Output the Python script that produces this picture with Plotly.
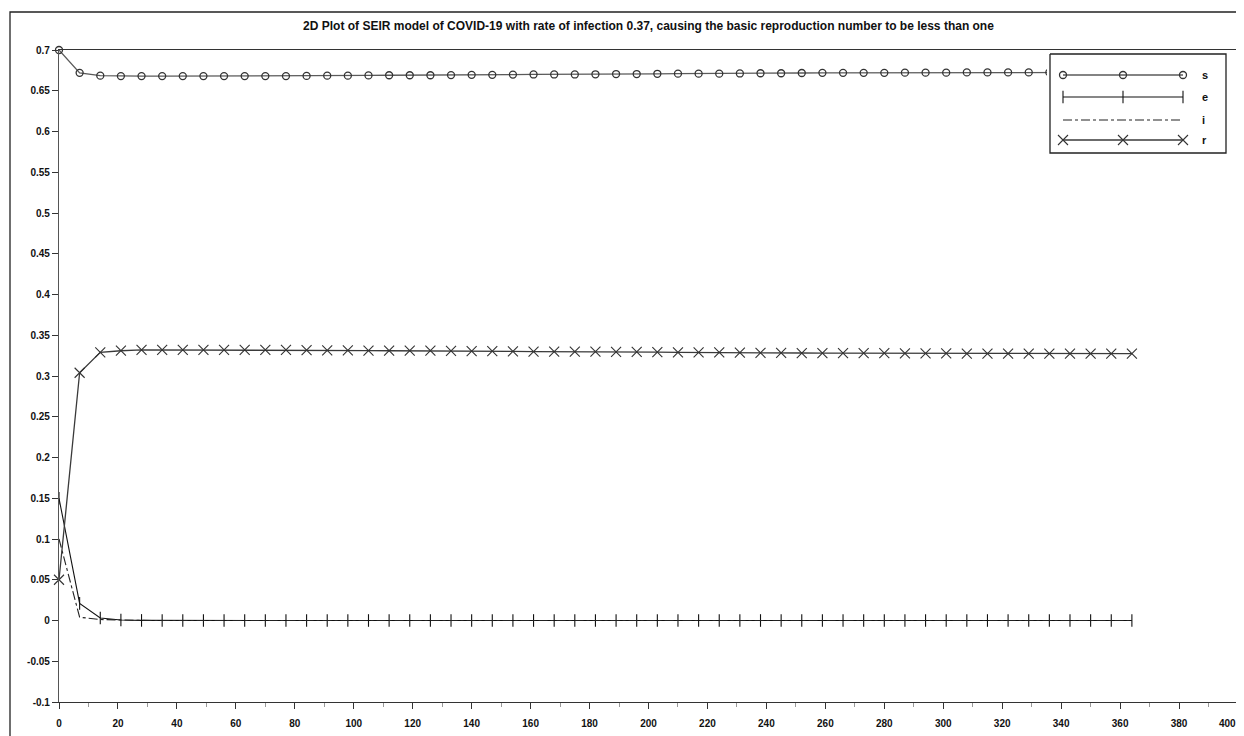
import plotly.graph_objects as go

# ---------------- data ----------------
days = [0, 7, 14, 21, 28, 35, 42, 49, 56, 63, 70, 77, 84, 91, 98, 105, 112, 119,
        126, 133, 140, 147, 154, 161, 168, 175, 182, 189, 196, 203, 210, 217, 224,
        231, 238, 245, 252, 259, 266, 273, 280, 287, 294, 301, 308, 315, 322, 329,
        336, 343, 350, 357, 364]

s_vals = [0.700, 0.672, 0.6685, 0.668, 0.668, 0.668, 0.668, 0.668, 0.668, 0.668,
          0.668, 0.668, 0.6682, 0.6685, 0.6685, 0.6688, 0.669, 0.669, 0.669, 0.6692,
          0.6695, 0.6695, 0.6698, 0.670, 0.670, 0.670, 0.6702, 0.6705, 0.6705, 0.6708,
          0.671, 0.671, 0.671, 0.6712, 0.6715, 0.6715, 0.6718, 0.672, 0.672, 0.672,
          0.672, 0.6722, 0.6722, 0.6722, 0.6725, 0.6725, 0.6725, 0.6725, 0.6725, 0.6725,
          0.6725, 0.6725, 0.6725]

e_vals = [0.150, 0.021, 0.003, 0.0006, 0.0001, 0.0, 0.0, 0.0, 0.0, 0.0,
          0.0, 0.0, 0.0, 0.0, 0.0, 0.0, 0.0, 0.0, 0.0, 0.0,
          0.0, 0.0, 0.0, 0.0, 0.0, 0.0, 0.0, 0.0, 0.0, 0.0,
          0.0, 0.0, 0.0, 0.0, 0.0, 0.0, 0.0, 0.0, 0.0, 0.0,
          0.0, 0.0, 0.0, 0.0, 0.0, 0.0, 0.0, 0.0, 0.0, 0.0,
          0.0, 0.0, 0.0]

i_vals = [0.100, 0.004, 0.0012, 0.0003, 0.0001, 0.0, 0.0, 0.0, 0.0, 0.0,
          0.0, 0.0, 0.0, 0.0, 0.0, 0.0, 0.0, 0.0, 0.0, 0.0,
          0.0, 0.0, 0.0, 0.0, 0.0, 0.0, 0.0, 0.0, 0.0, 0.0,
          0.0, 0.0, 0.0, 0.0, 0.0, 0.0, 0.0, 0.0, 0.0, 0.0,
          0.0, 0.0, 0.0, 0.0, 0.0, 0.0, 0.0, 0.0, 0.0, 0.0,
          0.0, 0.0, 0.0]

r_vals = [0.050, 0.304, 0.329, 0.331, 0.332, 0.332, 0.332, 0.332, 0.332, 0.332,
          0.332, 0.332, 0.3318, 0.3315, 0.3315, 0.3312, 0.331, 0.331, 0.331, 0.3308,
          0.3305, 0.3305, 0.3302, 0.330, 0.330, 0.330, 0.3298, 0.3295, 0.3295, 0.3292,
          0.329, 0.329, 0.329, 0.3288, 0.3285, 0.3285, 0.3282, 0.328, 0.328, 0.328,
          0.328, 0.3278, 0.3278, 0.3278, 0.3275, 0.3275, 0.3275, 0.3275, 0.3275, 0.3275,
          0.3275, 0.3275, 0.3275]

series_names = ["s", "e", "i", "r"]
title_text = ("2D Plot of SEIR model of COVID-19 with rate of infection 0.37, "
              "causing the basic reproduction number to be less than one")

x_ticks = [0, 20, 40, 60, 80, 100, 120, 140, 160, 180, 200, 220, 240, 260, 280,
           300, 320, 340, 360, 380, 400]
x_tick_text = ["0", "20", "40", "60", "80", "100", "120", "140", "160", "180", "200",
               "220", "240", "260", "280", "300", "320", "340", "360", "380", "400"]
y_ticks = [-0.1, -0.05, 0, 0.05, 0.1, 0.15, 0.2, 0.25, 0.3, 0.35, 0.4,
           0.45, 0.5, 0.55, 0.6, 0.65, 0.7]
y_tick_text = ["-0.1", "-0.05", "0", "0.05", "0.1", "0.15", "0.2", "0.25", "0.3",
               "0.35", "0.4", "0.45", "0.5", "0.55", "0.6", "0.65", "0.7"]

# ---------------- layout geometry (screen px, page has an 8px body margin) ----------------
OFF = 8
W, H = 1244 - OFF, 736 - OFF
plot_left, plot_right, plot_top, plot_bottom = 59, 1238, 50, 702
ML = plot_left - OFF
MT = plot_top - OFF
MR = W - (plot_right - OFF)
MB = H - (plot_bottom - OFF)
plot_w = W - ML - MR
plot_h = H - MT - MB
FONT = "Liberation Sans"


def px_to_paper_x(px):
    return (px - plot_left) / plot_w


def px_to_paper_y(py):
    return (plot_bottom - py) / plot_h


styles = {
    "s": dict(line=dict(color="#5a5a5a", width=1.3),
              marker=dict(symbol="circle-open", size=7, color="#333333",
                          line=dict(width=1.3))),
    "e": dict(line=dict(color="#111111", width=1.1),
              marker=dict(symbol="line-ns", size=9, color="#111111",
                          line=dict(width=1.1, color="#111111"))),
    "i": dict(line=dict(color="#222222", width=1.1, dash="dashdot"),
              marker=dict(size=1, opacity=0)),
    "r": dict(line=dict(color="#3a3a3a", width=1.3),
              marker=dict(symbol="x-thin", size=10, color="#333333",
                          line=dict(width=1.1, color="#333333"))),
}
modes = {"s": "lines+markers", "e": "lines+markers", "i": "lines", "r": "lines+markers"}
values = {"s": s_vals, "e": e_vals, "i": i_vals, "r": r_vals}

fig = go.Figure()
for name in series_names:
    fig.add_trace(go.Scatter(x=days, y=values[name], mode=modes[name], name=name,
                             showlegend=False, cliponaxis=False, **styles[name]))

# ---------------- custom legend (on its own small axis pair) ----------------
lg_left, lg_right, lg_top, lg_bottom = 1050, 1226, 54, 153
bw = lg_right - lg_left
bh = lg_bottom - lg_top
pad = 3
x2_dom = [px_to_paper_x(lg_left - pad), px_to_paper_x(lg_right + pad)]
y2_dom = [px_to_paper_y(lg_bottom + pad), px_to_paper_y(lg_top - pad)]

fig.add_trace(go.Scatter(x=[0, bw, bw, 0, 0], y=[0, 0, bh, bh, 0], mode="lines",
                         fill="toself", fillcolor="white",
                         line=dict(color="#222222", width=1.3),
                         xaxis="x2", yaxis="y2", showlegend=False, hoverinfo="skip"))
row_y = [21, 43, 66, 86]
sample_x = [13, 73, 133]
for k, name in enumerate(series_names):
    st = styles[name]
    fig.add_trace(go.Scatter(x=sample_x, y=[row_y[k]] * 3, mode=modes[name],
                             xaxis="x2", yaxis="y2", showlegend=False,
                             hoverinfo="skip", **st))
    fig.add_annotation(x=150, y=row_y[k], xref="x2", yref="y2", text=f"<b>{name}</b>",
                       showarrow=False, xanchor="left", yanchor="middle",
                       font=dict(family=FONT, size=11, color="#111111"))

# last x tick label: right-anchored so it stays inside the page
shown_x_text = list(x_tick_text)
shown_x_text[-1] = ""
fig.add_annotation(x=x_ticks[-1], xref="x", y=px_to_paper_y(723), yref="paper",
                   text=f"<b>{x_tick_text[-1]}</b>", showarrow=False,
                   xanchor="right", yanchor="middle", xshift=0,
                   font=dict(family=FONT, size=10, color="#111111"))

# outer figure frame
fig.add_shape(type="rect", xref="paper", yref="paper",
              x0=px_to_paper_x(10), x1=px_to_paper_x(1260),
              y0=px_to_paper_y(760), y1=px_to_paper_y(12),
              line=dict(color="#222222", width=1.3), layer="below")

fig.update_layout(
    width=W, height=H,
    margin=dict(l=ML, r=MR, t=MT, b=MB, autoexpand=False),
    paper_bgcolor="white", plot_bgcolor="white",
    title=dict(text=f"<b>{title_text}</b>", x=0.5, xanchor="center",
               xref="paper",
               y=1 - (26 - OFF) / H, yanchor="middle",
               font=dict(family=FONT, size=12, color="#111111")),
    font=dict(family=FONT, size=10, color="#111111"),
    xaxis=dict(range=[0, 400], tickvals=x_ticks,
               ticktext=[f"<b>{t}</b>" if t else "" for t in shown_x_text],
               ticks="outside", ticklen=6, ticklabelstandoff=6,
               tickwidth=1, tickcolor="#333333",
               minor=dict(dtick=10, ticks="outside", ticklen=4, tickcolor="#999999"),
               showgrid=False, zeroline=False, showline=True, linecolor="#333333",
               linewidth=1.2, mirror=True, automargin=False,
               tickfont=dict(family=FONT, size=10, color="#111111")),
    yaxis=dict(range=[-0.1, 0.7], tickvals=y_ticks,
               ticktext=[f"<b>{t}</b>" for t in y_tick_text],
               ticks="outside", ticklen=6, tickwidth=1, tickcolor="#333333",
               showgrid=False, zeroline=False, showline=True, linecolor="#555555",
               linewidth=1.2, mirror=True, automargin=False,
               tickfont=dict(family=FONT, size=10, color="#111111")),
    xaxis2=dict(domain=x2_dom, range=[-pad, bw + pad], visible=False,
                fixedrange=True, anchor="y2", automargin=False),
    yaxis2=dict(domain=y2_dom, range=[bh + pad, -pad], visible=False,
                fixedrange=True, anchor="x2", automargin=False),
    showlegend=False,
)

fig.write_html("out.html")
